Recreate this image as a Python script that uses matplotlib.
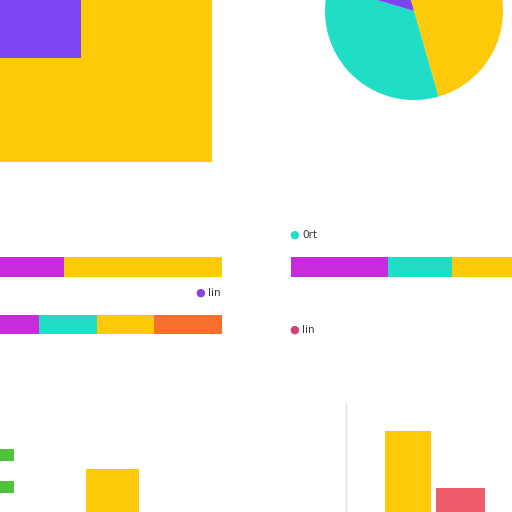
import numpy as np
import matplotlib
matplotlib.use("Agg")
import matplotlib.pyplot as plt

# colours
YELLOW = "#FDCA0A"
PURPLE = "#7B46F0"
MAGENTA = "#C62BDC"
TEAL = "#20DEC6"
ORANGE = "#F96E2C"
RED = "#EE5C6C"
GREEN = "#4DC43A"

# data
tile_share = [0.38, 0.36]          # purple tile: width, height share of the yellow block
pie_vals = [50, 34, 16]            # yellow, teal, purple
pie_cols = [YELLOW, TEAL, PURPLE]
bar1 = [29, 71]
bar1_cols = [MAGENTA, YELLOW]
bar2 = [17.5, 26, 26, 30.5]
bar2_cols = [MAGENTA, TEAL, YELLOW, ORANGE]
bar3 = [44, 29, 27]
bar3_cols = [MAGENTA, TEAL, YELLOW]
legend_labels = ["0rt", "lin", "lin"]
legend_cols = [TEAL, "#8B42D6", "#D2416C"]
green_vals = [0.27, 0.27]
green_pos = [51, 22]
left_bar = [38]
right_vals = [74, 22]
right_cols = [YELLOW, RED]

W = 512
fig = plt.figure(figsize=(5.12, 5.12), dpi=100)
fig.patch.set_facecolor("white")


def box(x0, y0, x1, y1):
    ax = fig.add_axes([x0 / W, 1 - y1 / W, (x1 - x0) / W, (y1 - y0) / W])
    ax.set_axis_off()
    return ax


# top-left block
ax = box(0, 0, 212, 162)
ax.set_xlim(0, 1)
ax.set_ylim(1, 0)
ax.bar(0, 1, 1, align="edge", color=YELLOW)
ax.bar(0, tile_share[1], tile_share[0], align="edge", color=PURPLE)

# pie, cut by the top edge
ax = box(414 - 89, 11 - 89, 414 + 89, 11 + 89)
ax.pie(pie_vals, colors=pie_cols, startangle=106, counterclock=False,
       wedgeprops=dict(linewidth=0))
ax.set_xlim(-1, 1)
ax.set_ylim(-1, 1)


def stacked(ax, vals, cols):
    left = np.concatenate([[0], np.cumsum(vals)[:-1]])
    ax.barh(0, vals, left=left, height=1, color=cols, linewidth=0)
    ax.set_xlim(0, sum(vals))
    ax.set_ylim(-0.5, 0.5)


stacked(box(0, 257, 222, 277), bar1, bar1_cols)
stacked(box(0, 315, 222, 334), bar2, bar2_cols)
stacked(box(291, 257, 512, 277), bar3, bar3_cols)

# legend items
for (x, y), lab, c in zip([(294, 235), (200, 293), (294, 330)], legend_labels, legend_cols):
    fig.text(x / W, 1 - y / W, "\u25CF", color=c, fontsize=8, ha="center", va="center")
    fig.text((x + 8) / W, 1 - y / W, lab, color="#333333", fontsize=7.5, ha="left", va="center")

# bottom-left bars
ax = box(0, 400, 340, 512)
ax.set_xlim(0, 6.5)
ax.set_ylim(0, 100)
ax.barh(green_pos, green_vals, height=10.7, left=0, color=GREEN, linewidth=0)
ax.bar([2.15], left_bar, width=1.01, color=YELLOW, linewidth=0)

# bottom-right bars
ax = box(346, 403, 512, 512)
ax.set_axis_on()
for s in ["top", "right", "bottom"]:
    ax.spines[s].set_visible(False)
ax.spines["left"].set_color("#e4e4e4")
ax.spines["left"].set_linewidth(1)
ax.set_xticks([])
ax.set_yticks([])
ax.set_facecolor("none")
ax.set_xlim(0, 4)
ax.set_ylim(0, 100)
ax.bar([1.49, 2.76], right_vals, width=[1.1, 1.18], color=right_cols, linewidth=0)

fig.savefig("out.png", dpi=100, facecolor="white")
